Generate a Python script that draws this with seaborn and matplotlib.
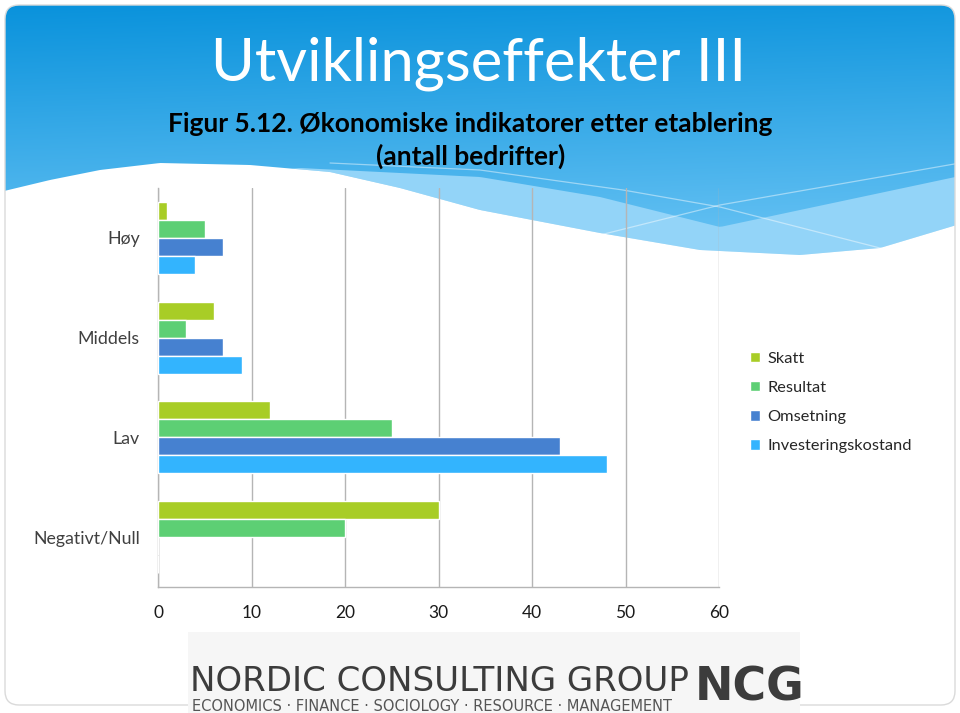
import matplotlib
matplotlib.use("Agg")
import matplotlib.pyplot as plt
import numpy as np
import pandas as pd
import seaborn as sns
from matplotlib.patches import FancyBboxPatch, Rectangle

# ----- data -----
kategorier = ["Høy", "Middels", "Lav", "Negativt/Null"]
indikatorer = ["Skatt", "Resultat", "Omsetning", "Investeringskostand"]
skatt = [1, 6, 12, 30]
resultat = [5, 3, 25, 20]
omsetning = [7, 7, 43, 0]
investering = [4, 9, 48, 0]
x_ticks = [0, 10, 20, 30, 40, 50, 60]
farger = ["#a8cd26", "#5dcf74", "#4681d0", "#33b4fe"]

df = pd.DataFrame({
    "kategori": kategorier * 4,
    "indikator": np.repeat(indikatorer, len(kategorier)),
    "antall": skatt + resultat + omsetning + investering,
})

sns.set_style("white")
plt.rcParams["font.family"] = ["Lato", "DejaVu Sans"]

fig = plt.figure(figsize=(9.6, 7.13), dpi=100, facecolor="white")

# ----- slide background (gradient header + white wave) -----
bg = fig.add_axes([0, 0, 1, 1], zorder=-5)
bg.set_xlim(0, 960)
bg.set_ylim(713, 0)
bg.axis("off")

slide = FancyBboxPatch((5, 5), 950, 700, boxstyle="round,pad=0,rounding_size=14",
                       transform=bg.transData, facecolor="none", edgecolor="none")
bg.add_patch(slide)

yy, xx = np.mgrid[0:320, 0:960]
t = yy / 320.0
s = xx / 960.0
top = np.array([0.03, 0.57, 0.86])
low = np.array([0.42, 0.77, 0.96])
mix = np.clip(t * 1.15 + 0.1 * s, 0, 1)[..., None]
img = top * (1 - mix) + low * mix
im = bg.imshow(img, extent=(0, 960, 320, 0), aspect="auto", zorder=0)
im.set_clip_path(slide)

# white wave boundary and light band
wx = [0, 50, 100, 160, 250, 330, 400, 480, 600, 700, 800, 880, 960]
wy = [192, 180, 170, 163, 165, 172, 188, 210, 233, 250, 255, 248, 224]
bx = [0, 300, 480, 600, 720, 800, 880, 960]
by = [192, 168, 177, 197, 227, 210, 193, 176]
xs = np.linspace(0, 960, 300)
ys = np.interp(xs, wx, wy)
band = np.minimum(np.interp(xs, bx, by), ys)
f1 = bg.fill_between(xs, band, ys, color="#93d4f8", zorder=1, lw=0)
f2 = bg.fill_between(xs, ys, 330, color="white", zorder=2, lw=0)
f1.set_clip_path(slide)
f2.set_clip_path(slide)
bg.plot([330, 480, 623, 720, 880, 930], [163, 170, 190, 207, 248, 256],
        color="white", alpha=0.45, lw=0.9, zorder=2)
bg.plot([560, 600, 720, 960], [247, 235, 205, 163],
        color="white", alpha=0.45, lw=0.9, zorder=2)
bg.add_patch(FancyBboxPatch((5, 5), 950, 700, boxstyle="round,pad=0,rounding_size=14",
                            facecolor="none", edgecolor="#dadada", lw=1, zorder=3))

fig.text(0.498, 0.91, "Utviklingseffekter III", ha="center", va="center",
         color="white", fontsize=43)
fig.text(0.49, 0.826, "Figur 5.12. Økonomiske indikatorer etter etablering",
         ha="center", va="center", color="black", fontsize=19, fontweight="bold")
fig.text(0.49, 0.781, "(antall bedrifter)", ha="center", va="center",
         color="black", fontsize=19, fontweight="bold")

# ----- chart -----
ax = fig.add_axes([0.1646, 0.1767, 0.5844, 0.5596])
ax.patch.set_alpha(0)
sns.barplot(data=df, y="kategori", x="antall", hue="indikator", orient="h",
            order=kategorier, hue_order=indikatorer, palette=farger,
            width=0.72, saturation=1, ax=ax, zorder=3)
ax.set_xlim(0, 60)
ax.set_ylim(3.5, -0.5)
ax.set_xticks(x_ticks)
ax.set_xlabel("")
ax.set_ylabel("")
ax.xaxis.grid(True, color="#b5b5b5", lw=1, zorder=0)
ax.set_axisbelow(True)
for side in ["top", "right"]:
    ax.spines[side].set_visible(False)
for side in ["left", "bottom"]:
    ax.spines[side].set_color("#b5b5b5")
    ax.spines[side].set_linewidth(1)
ax.tick_params(axis="x", length=0, pad=13, labelsize=12.5, labelcolor="#1a1a1a")
ax.tick_params(axis="y", length=0, pad=13, labelsize=12.8, labelcolor="#404040")

handles, labels = ax.get_legend_handles_labels()
ax.legend(handles, labels, loc="upper left", bbox_to_anchor=(0.774, 0.516),
          bbox_transform=fig.transFigure, frameon=False, fontsize=11.8,
          handlelength=0.62, handleheight=0.62, handletextpad=0.45,
          labelspacing=0.92, borderaxespad=0)

# ----- logo strip -----
bg.add_patch(Rectangle((188, 632), 612, 81, facecolor="#f6f6f6", edgecolor="none", zorder=3))
bg.text(190, 691, "NORDIC CONSULTING GROUP", ha="left", va="baseline",
        fontsize=24.5, color="#3c3c3c", family="DejaVu Sans", zorder=4)
bg.text(192, 711, "ECONOMICS · FINANCE · SOCIOLOGY · RESOURCE · MANAGEMENT",
        ha="left", va="baseline", fontsize=10.5, color="#555555", family="DejaVu Sans", zorder=4)
bg.text(750, 688, "NCG", ha="center", va="center", fontsize=33, fontweight="bold",
        color="#3c3c3c", family="DejaVu Sans", zorder=4)

fig.savefig("out.png", dpi=100)
